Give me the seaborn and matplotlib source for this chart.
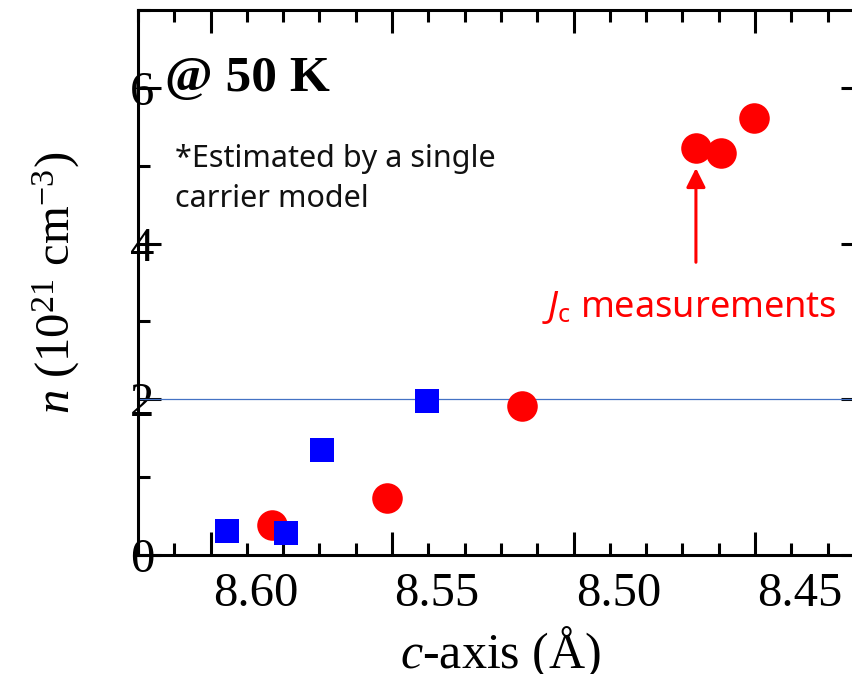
import numpy as np
import pandas as pd
import matplotlib
matplotlib.use("Agg")
import matplotlib.pyplot as plt
import seaborn as sns
from matplotlib.ticker import MultipleLocator
from matplotlib.transforms import ScaledTranslation

# ---------------- data ----------------
c_axis_squares = [8.5954, 8.5792, 8.5693, 8.5403]
n_squares = [0.31, 0.28, 1.35, 1.98]

c_axis_circles = [8.5832, 8.5513, 8.5143, 8.4663, 8.4593, 8.4504]
n_circles = [0.385, 0.735, 1.92, 5.23, 5.16, 5.61]

x_ticks = [8.60, 8.55, 8.50, 8.45]
x_tick_labels = ["8.60", "8.55", "8.50", "8.45"]
y_ticks = [0, 2, 4, 6]
y_tick_labels = ["0", "2", "4", "6"]
ref_level = 2.0

jc_arrow_x = 8.4663
jc_arrow_from = 3.76
jc_arrow_to = 4.97

df_sq = pd.DataFrame({"c": c_axis_squares, "n": n_squares})
df_ci = pd.DataFrame({"c": c_axis_circles, "n": n_circles})

# ---------------- style ----------------
sns.set_style("ticks")
plt.rcParams["font.family"] = ["Liberation Serif", "DejaVu Serif"]
plt.rcParams["text.color"] = "black"
plt.rcParams["axes.labelcolor"] = "black"
plt.rcParams["xtick.color"] = "black"
plt.rcParams["ytick.color"] = "black"
plt.rcParams["axes.edgecolor"] = "black"
plt.rcParams["mathtext.fontset"] = "custom"
plt.rcParams["mathtext.rm"] = "Liberation Serif"
plt.rcParams["mathtext.it"] = "Liberation Serif:italic"
plt.rcParams["mathtext.sf"] = "Noto Sans"
plt.rcParams["mathtext.cal"] = "Noto Sans:italic"

fig = plt.figure(figsize=(8.52, 6.74), dpi=100)
ax = fig.add_axes([138 / 852, 119 / 674, 726 / 852, 545 / 674])

ax.axhline(ref_level, color="#4472C4", lw=0.9, zorder=1)

sns.scatterplot(data=df_ci, x="c", y="n", ax=ax, marker="o", s=484,
                color="#FF0000", linewidth=0, zorder=3)
sns.scatterplot(data=df_sq, x="c", y="n", ax=ax, marker="s", s=300,
                color="#0000FF", linewidth=0, zorder=3)

ax.set_xlim(8.62, 8.42)
ax.set_ylim(0, 7)
ax.set_xticks(x_ticks)
ax.set_xticklabels(x_tick_labels)
ax.set_yticks(y_ticks)
ax.set_yticklabels(y_tick_labels)
ax.xaxis.set_minor_locator(MultipleLocator(0.01))
ax.yaxis.set_minor_locator(MultipleLocator(1))

ax.tick_params(which="both", direction="in", top=True, right=True,
               width=2.2, color="black", labelcolor="black")
ax.tick_params(which="major", length=16.5)
ax.tick_params(which="minor", length=8.5)
ax.tick_params(axis="x", which="major", labelsize=35, pad=12)
ax.tick_params(axis="y", which="major", labelsize=35, pad=-3)

for sp in ax.spines.values():
    sp.set_linewidth(2.2)
    sp.set_color("black")

for lbl in ax.get_yticklabels():
    lbl.set_horizontalalignment("center")
offset = ScaledTranslation(0.45, 0, fig.dpi_scale_trans)
for lbl in ax.get_xticklabels():
    lbl.set_transform(lbl.get_transform() + offset)

ax.set_xlabel(r"$c$-axis (Å)", fontsize=36, labelpad=6, color="black")
ax.set_ylabel(r"$n$ (10$^{21}$ cm$^{\mathrm{-3}}$)", fontsize=35, color="black")
ax.yaxis.set_label_coords(-0.077, 0.5)

ax.text(0.037, 0.851, "@ 50 K", transform=ax.transAxes, fontsize=37,
        fontweight="bold", family="Liberation Serif", va="baseline",
        color="black")
ax.text(0.051, 0.6385, "*Estimated by a single\ncarrier model",
        transform=ax.transAxes, fontsize=22, family="Noto Sans",
        va="baseline", linespacing=1.42, color="#111111")
ax.text(0.5565, 0.4367, r"$\mathcal{J}_{\mathsf{c}}$ measurements",
        transform=ax.transAxes, fontsize=26, family="Noto Sans",
        va="baseline", color="#FF0000")

ax.annotate("", xy=(jc_arrow_x, jc_arrow_to), xytext=(jc_arrow_x, jc_arrow_from),
            arrowprops=dict(arrowstyle="-|>", color="#FF0000", lw=2.2,
                            mutation_scale=29, shrinkA=0, shrinkB=0))

fig.savefig("out.png", dpi=100)
